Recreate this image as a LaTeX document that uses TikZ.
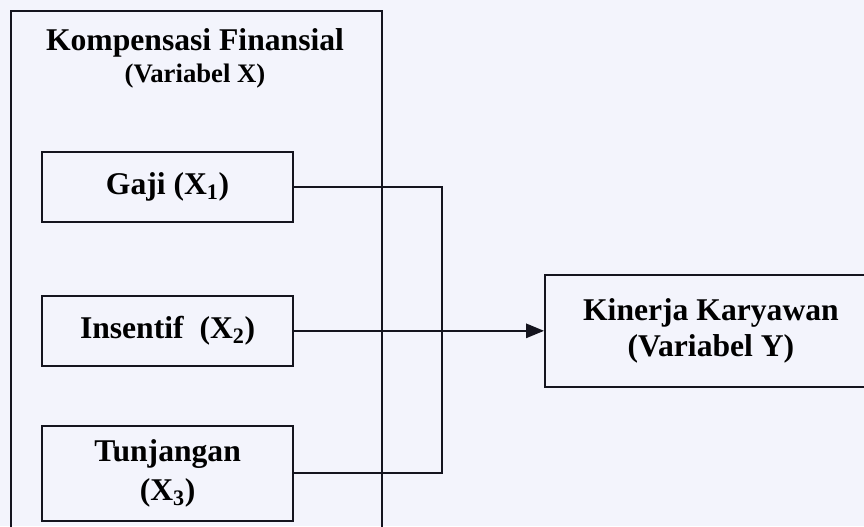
\documentclass[tikz,border=0pt]{standalone}
\usepackage{fontspec}
\setmainfont{Liberation Serif}
\usepackage{xcolor}
\usepackage{tikz}
\usetikzlibrary{arrows.meta,positioning,calc}
\definecolor{kInk}{RGB}{20,20,30}
\definecolor{kPaper}{RGB}{243,244,252}
\tikzset{
framebox/.style={rectangle,draw=kInk,line width=1.3pt,anchor=north west,minimum width=9.275cm,minimum height=13.4cm},
varbox/.style={rectangle,draw=kInk,line width=1.3pt,minimum width=6.275cm,minimum height=1.75cm,align=center,font=\fontsize{22.5}{28}\selectfont\bfseries},
resultbox/.style={rectangle,draw=kInk,line width=1.3pt,minimum width=8.3cm,minimum height=2.8cm,align=center,font=\fontsize{22.5}{26}\selectfont\bfseries},
headtext/.style={anchor=base,inner sep=0pt,font=\fontsize{22.5}{26}\selectfont\bfseries},
subtext/.style={anchor=base,inner sep=0pt,font=\fontsize{19}{22}\selectfont\bfseries},
link/.style={line width=1.3pt,draw=kInk},
arrow/.style={-{Triangle[length=0.45cm,width=0.36cm]},line width=1.3pt,draw=kInk}
}

\begin{document}
\begin{tikzpicture}[node distance=1.8cm and 6.25cm]
\path[use as bounding box,fill=kPaper] (0,0) rectangle (21.6,-13.15);
\clip (0,0) rectangle (21.6,-13.15);
\node[framebox] (frame) at (0.25,-0.25) {};
\node[headtext] (title) at (4.875,-1.25) {Kompensasi Finansial};
\node[subtext] (subx) at ([yshift=-0.8cm]title.base) {(Variabel X)};
\node[varbox] (gaji) at (4.19,-4.675) {Gaji (X\textsubscript{1})};
\node[varbox,below=of gaji] (insentif) {Insentif\ \ (X\textsubscript{2})};
\node[varbox,below=1.45cm of insentif,minimum height=2.375cm] (tunjangan) {Tunjangan\\(X\textsubscript{3})};
\node[resultbox,right=of insentif] (kinerja) {Kinerja Karyawan\\(Variabel Y)};
\coordinate (bus) at ([xshift=3.7cm]insentif.east);
\draw[link] (gaji.east) -| (bus) |- (tunjangan.east);
\draw[arrow] (insentif.east)--(kinerja.west);
\end{tikzpicture}
\end{document}
